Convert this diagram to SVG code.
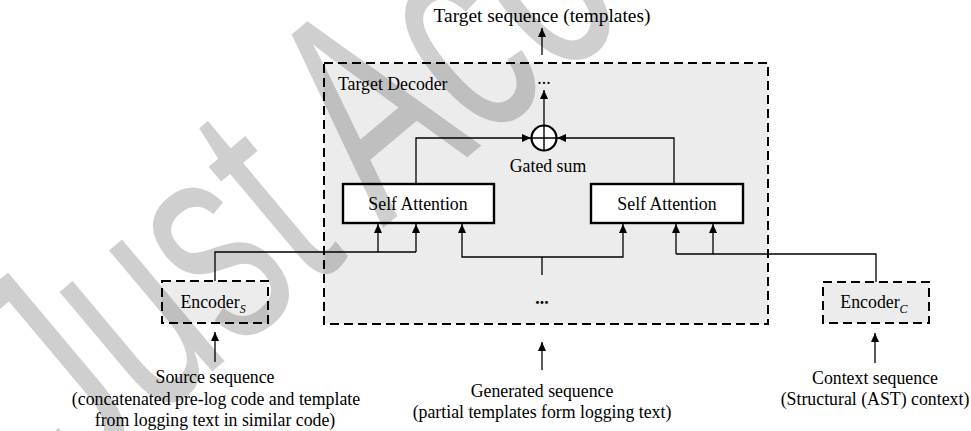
<svg xmlns="http://www.w3.org/2000/svg" width="971" height="431" viewBox="0 0 971 431" font-family="'Liberation Serif', 'Times New Roman', serif" font-size="17.8">
  <style>
    .lbl { font-family: 'Liberation Serif', 'Times New Roman', serif; font-size: 17.8px; fill: #000; }
    .title { font-size: 19.4px; }
    .mid { text-anchor: middle; }
    .dashed { fill: #ececec; stroke: #000; stroke-width: 2; stroke-dasharray: 9 5; }
    .block { fill: #fff; stroke: #000; stroke-width: 2.4; }
    .wire { fill: none; stroke: #000; stroke-width: 1.3; }
    .arrow { fill: none; stroke: #000; stroke-width: 1.3; marker-end: url(#head); }
    .mark { font-family: 'Liberation Sans', Arial, sans-serif; font-size: 215px; fill: #000; fill-opacity: 0.19; }
  </style>
  <defs>
    <marker id="head" markerUnits="userSpaceOnUse" markerWidth="10" markerHeight="10" viewBox="0 0 10 10" refX="9" refY="5" orient="auto">
      <path d="M0,1 L9,5 L0,9 Z" fill="#000"/>
    </marker>
  </defs>

  <rect width="971" height="431" fill="#fff"/>

  <!-- decoder container -->
  <g id="target-decoder">
    <rect class="dashed" x="324" y="63" width="444" height="261"/>
    <text class="lbl" x="338" y="90">Target Decoder</text>
    <text class="lbl mid" x="544" y="84">...</text>
    <text class="lbl mid" x="542" y="304" font-weight="bold">...</text>
  </g>

  <g id="self-attention-source">
    <rect class="block" x="343" y="184" width="151" height="39"/>
    <text class="lbl mid" x="418" y="210">Self Attention</text>
  </g>

  <g id="self-attention-context">
    <rect class="block" x="591" y="184" width="152" height="39"/>
    <text class="lbl mid" x="667" y="210">Self Attention</text>
  </g>

  <g id="gated-sum">
    <circle cx="544" cy="138" r="12.5" fill="#fff" stroke="#000" stroke-width="2.2"/>
    <path d="M531.5,138 H556.5 M544,125.5 V150.5" stroke="#000" stroke-width="1.4"/>
    <text class="lbl mid" x="548" y="172">Gated sum</text>
  </g>

  <g id="encoder-s">
    <rect class="dashed" x="162" y="281" width="106" height="42"/>
    <text class="lbl mid" x="213" y="308">Encoder<tspan font-size="12" font-style="italic" dy="5">S</tspan></text>
  </g>

  <g id="encoder-c">
    <rect class="dashed" x="823" y="282" width="106" height="41"/>
    <text class="lbl mid" x="874" y="308">Encoder<tspan font-size="12" font-style="italic" dy="5">C</tspan></text>
  </g>

  <g id="labels">
    <text class="lbl title mid" x="542" y="22">Target sequence (templates)</text>
    <text class="lbl mid" x="215" y="383">Source sequence</text>
    <text class="lbl mid" x="216" y="405">(concatenated pre-log code and template</text>
    <text class="lbl mid" x="215" y="426">from logging text in similar code)</text>
    <text class="lbl mid" x="542" y="397">Generated sequence</text>
    <text class="lbl mid" x="542" y="418">(partial templates form logging text)</text>
    <text class="lbl mid" x="875" y="384">Context sequence</text>
    <text class="lbl mid" x="875" y="405">(Structural (AST) context)</text>
  </g>

  <g id="connectors">
    <!-- decoder output -->
    <line class="arrow" x1="542" y1="55" x2="542" y2="28"/>
    <line class="arrow" x1="544" y1="125" x2="544" y2="90"/>
    <!-- attention outputs into the gated sum -->
    <path class="arrow" d="M416,184 V138 H531"/>
    <path class="arrow" d="M674,184 V138 H557"/>
    <!-- source encoder into left attention -->
    <path class="wire" d="M215,281 V252 H416"/>
    <line class="arrow" x1="378" y1="252" x2="378" y2="224"/>
    <line class="arrow" x1="416" y1="252" x2="416" y2="224"/>
    <!-- generated sequence into both attentions -->
    <path class="wire" d="M542,275 V257"/>
    <path class="arrow" d="M542,257 H462 V224"/>
    <path class="arrow" d="M542,257 H623 V224"/>
    <!-- context encoder into right attention -->
    <path class="wire" d="M876,282 V254 H676"/>
    <line class="arrow" x1="676" y1="254" x2="676" y2="224"/>
    <line class="arrow" x1="713" y1="254" x2="713" y2="224"/>
    <!-- inputs from below -->
    <line class="arrow" x1="215" y1="362" x2="215" y2="332"/>
    <line class="arrow" x1="542" y1="370" x2="542" y2="342"/>
    <line class="arrow" x1="875" y1="363" x2="875" y2="333"/>
  </g>

  <!-- watermark -->
  <text class="mark" transform="translate(78,484) rotate(-40) scale(0.9,1.4)">Just Accepted</text>
</svg>
